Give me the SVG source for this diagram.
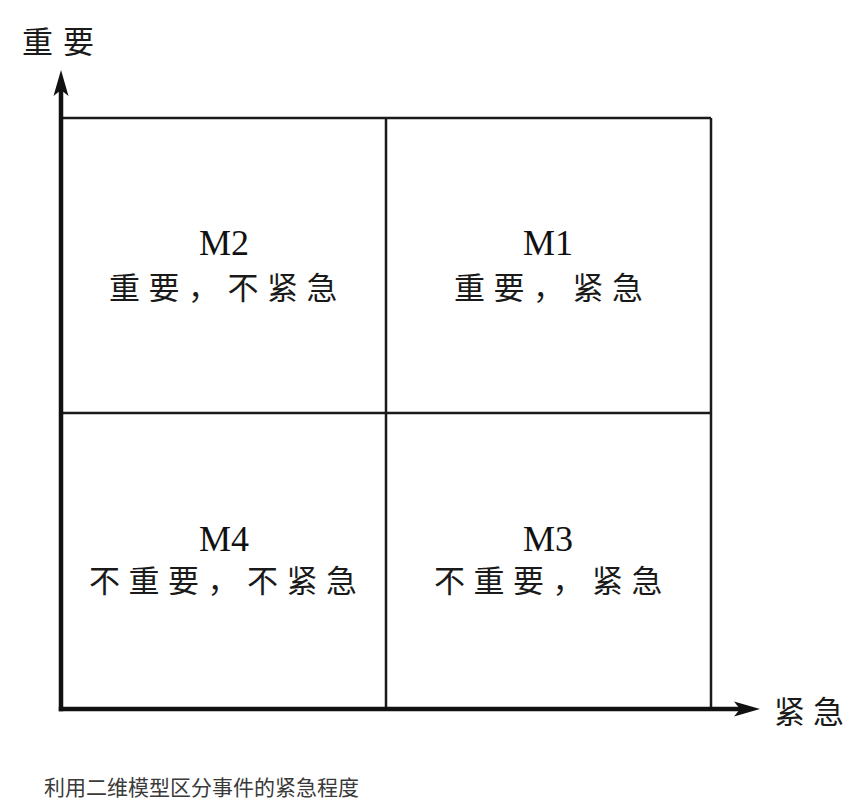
<svg xmlns="http://www.w3.org/2000/svg" width="853" height="808" viewBox="0 0 853 808">
<style>
.bg{fill:#ffffff}
.grid{stroke:#1a1a1a;stroke-width:2.5;fill:none}
.axis{stroke:#111;stroke-width:4.5;fill:none}
.m{font-family:"Liberation Serif",serif;font-size:36px;fill:#111;text-anchor:middle}
.zh{font-family:"Noto Sans CJK SC","Noto Sans CJK JP",sans-serif;font-size:31px;fill:#1a1a1a;letter-spacing:8.5px}
.ax{font-family:"Noto Sans CJK SC","Noto Sans CJK JP",sans-serif;font-size:31px;fill:#1a1a1a}
.cap{font-family:"Noto Sans CJK SC","Noto Sans CJK JP",sans-serif;font-size:21px;fill:#3a3a3a}
</style>
<defs>
<marker id="arr" markerUnits="userSpaceOnUse" markerWidth="32" markerHeight="18" viewBox="-27 -9 32 18" refX="-15" refY="0" orient="auto">
<path d="M0,0 L-26,-7.5 L-20,0 L-26,7.5 Z" fill="#111"/>
</marker>
</defs>
<rect class="bg" x="0" y="0" width="853" height="808"/>
<g id="grid">
<line class="grid" x1="61" y1="118" x2="711" y2="118"/>
<line class="grid" x1="711" y1="118" x2="711" y2="709"/>
<line class="grid" x1="386" y1="118" x2="386" y2="709"/>
<line class="grid" x1="61" y1="413" x2="711" y2="413"/>
</g>
<g id="connectors">
<path class="axis" d="M61,711.2 L61,85" marker-end="url(#arr)"/>
<path class="axis" d="M58.8,709 L745,709" marker-end="url(#arr)"/>
</g>
<g id="axis-y-label"><text class="ax" x="22" y="53" letter-spacing="10">重要</text></g>
<g id="axis-x-label"><text class="ax" x="774" y="723" letter-spacing="8">紧急</text></g>
<g id="M2">
<text class="m" x="224" y="255">M2</text>
<text class="zh" x="109" y="299">重要，不紧急</text>
</g>
<g id="M1">
<text class="m" x="548" y="255">M1</text>
<text class="zh" x="454" y="299">重要，紧急</text>
</g>
<g id="M4">
<text class="m" x="224" y="551">M4</text>
<text class="zh" x="89" y="592">不重要，不紧急</text>
</g>
<g id="M3">
<text class="m" x="548" y="551">M3</text>
<text class="zh" x="434" y="592">不重要，紧急</text>
</g>
<g id="caption"><text class="cap" x="44" y="795">利用二维模型区分事件的紧急程度</text></g>
</svg>
